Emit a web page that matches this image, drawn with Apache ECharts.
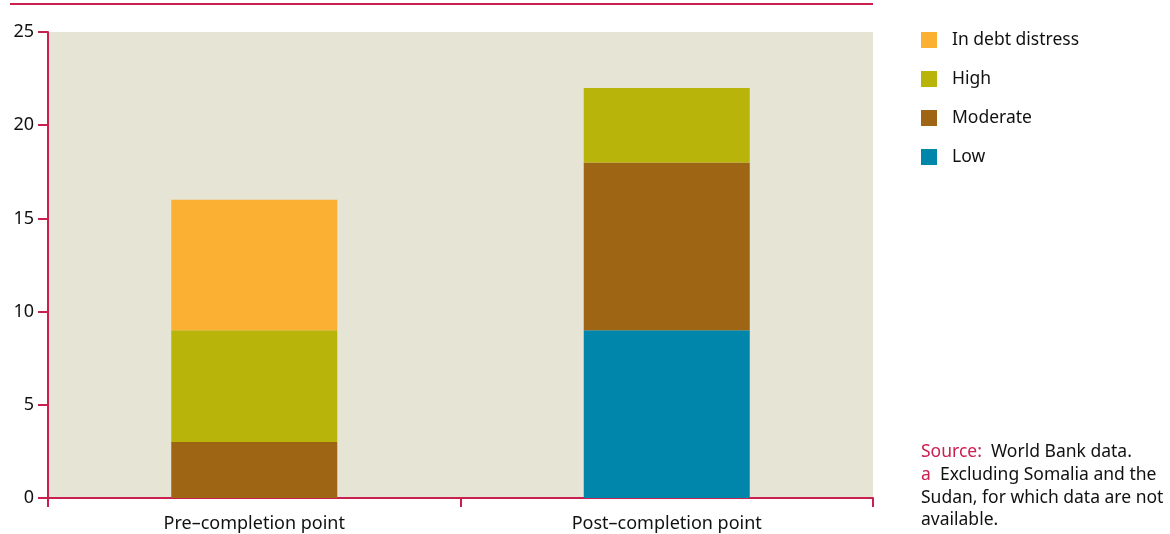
<!DOCTYPE html>
<html>
<head>
<meta charset="utf-8">
<script src="https://cdn.jsdelivr.net/npm/echarts@6/dist/echarts.min.js"></script>
<style>
html,body{margin:0;padding:0;background:#fff;}
#c{width:1170px;height:534px;}
</style>
</head>
<body>
<div id="c"></div>
<script>
const categories = ['Pre\u2013completion point', 'Post\u2013completion point'];
const seriesNames = ['Low', 'Moderate', 'High', 'In debt distress'];
const low = [0, 9];
const moderate = [3, 9];
const high = [6, 4];
const distress = [7, 0];
const yTicks = [0, 5, 10, 15, 20, 25];
const legendOrder = ['In debt distress', 'High', 'Moderate', 'Low'];

const colors = {
  'Low': '#0085AB',
  'Moderate': '#9E6515',
  'High': '#B8B40A',
  'In debt distress': '#FBB034'
};
const FONT = 'Noto Sans';
const RED = '#C9204F';
const TXT = '#111111';
const values = [low, moderate, high, distress];

const chart = echarts.init(document.getElementById('c'), null, {renderer: 'canvas'});
chart.setOption({
  animation: false,
  textStyle: {fontFamily: FONT},
  grid: {
    left: 48, right: 297, top: 32, bottom: 36,
    show: true, backgroundColor: '#E6E4D4', borderWidth: 0
  },
  legend: {
    data: legendOrder,
    orient: 'vertical',
    left: 921, top: 31, padding: 0,
    itemWidth: 16, itemHeight: 16, itemGap: 21,
    icon: 'rect',
    textStyle: {fontFamily: FONT, fontSize: 17.5, color: TXT, lineHeight: 16, height: 16, padding: [0, 0, 0, 10]},
    selectedMode: false
  },
  xAxis: {
    type: 'category',
    data: categories,
    boundaryGap: true,
    axisLine: {lineStyle: {color: RED, width: 2}},
    axisTick: {show: true, length: 9, lineStyle: {color: RED, width: 2}},
    axisLabel: {fontFamily: FONT, fontSize: 18, color: TXT, margin: 17}
  },
  yAxis: {
    type: 'value',
    min: yTicks[0], max: yTicks[yTicks.length - 1], interval: 5,
    axisLine: {show: true, lineStyle: {color: RED, width: 2}},
    axisTick: {show: true, length: 10, lineStyle: {color: RED, width: 2}},
    splitLine: {show: false},
    axisLabel: {fontFamily: FONT, fontSize: 18, color: TXT, margin: 14}
  },
  series: seriesNames.map((n, i) => ({
    name: n,
    type: 'bar',
    stack: 'total',
    barWidth: 166,
    itemStyle: {color: colors[n]},
    data: values[i]
  })),
  graphic: [
    {type: 'line', shape: {x1: 10, y1: 4, x2: 873, y2: 4}, style: {stroke: RED, lineWidth: 2}},
    {type: 'text', left: 921, top: 441, style: {
      text: '{r|Source:}  World Bank data.\n{r|a}  Excluding Somalia and the\nSudan, for which data are not\navailable.',
      fontFamily: FONT, fontSize: 17.5, lineHeight: 22.7, fill: TXT,
      rich: {r: {fill: RED, fontFamily: FONT, fontSize: 17.5, lineHeight: 22.7}}
    }}
  ]
});
</script>
</body>
</html>
